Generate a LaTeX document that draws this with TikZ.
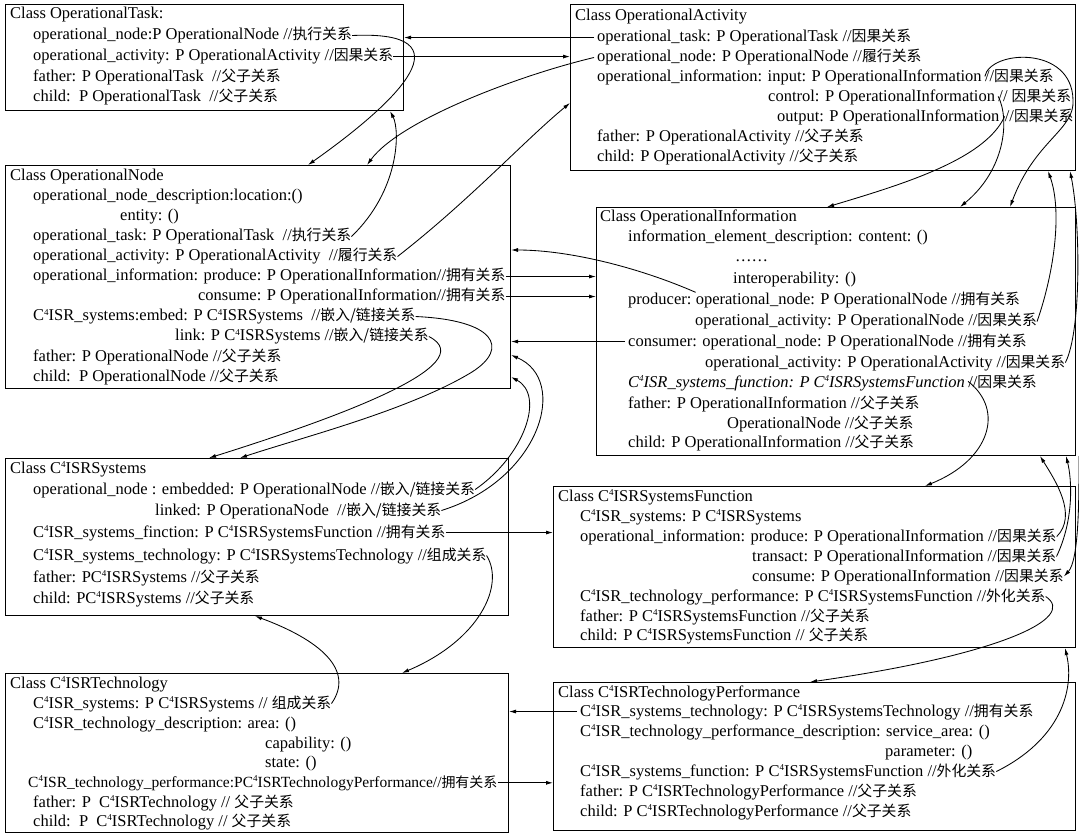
\documentclass[tikz,border=0pt]{standalone}
\usepackage{fontspec}
\setmainfont{Liberation Serif}
\newfontfamily\cjk[Scale=0.9]{Noto Sans CJK SC}
\usetikzlibrary{arrows.meta, positioning}
\newcommand{\cn}[1]{{\cjk #1}}
\newcommand{\cfour}{C\raisebox{0.75ex}{\fontsize{9}{9}\selectfont 4}ISR}
\newcommand{\rowfont}{\fontsize{16.5}{20}\selectfont}

\begin{document}
\begin{tikzpicture}[x=1pt, y=-1pt,
    classbox/.style={draw, line width=1pt, anchor=north west, inner sep=0pt},
    attr/.style={anchor=base west, inner sep=0pt, font=\rowfont},
    relarrow/.style={-{Latex[length=7pt, width=4pt]}, line width=0.85pt}
  ]
  \useasboundingbox (0,0) rectangle (1079,834);

  \node[classbox, minimum width=398pt, minimum height=106pt] (task) at (5,4) {};
  \node[classbox, minimum width=505pt, minimum height=166pt] (act) at (570,4) {};
  \node[classbox, minimum width=505pt, minimum height=223pt] (onode) at (5,165) {};
  \node[classbox, minimum width=479pt, minimum height=248pt] (info) at (596,207) {};
  \node[classbox, minimum width=503pt, minimum height=157pt] (sys) at (5,458) {};
  \node[classbox, minimum width=522pt, minimum height=161pt] (fun) at (553,486) {};
  \node[classbox, minimum width=503pt, minimum height=159pt] (tech) at (5,673) {};
  \node[classbox, minimum width=522pt, minimum height=148pt] (perf) at (553,682) {};

  \node[attr] (t0) at (10,19) {Class OperationalTask:};
  \node[attr] (t1) at (33,40) {operational\_node:P OperationalNode //\cn{执行关系}};
  \node[attr] (t2) at (33,61) {operational\_activity: P OperationalActivity //\cn{因果关系}};
  \node[attr] (t3) at (33,82) {father: P OperationalTask\enspace//\cn{父子关系}};
  \node[attr] (t4) at (33,102) {child:\enspace P OperationalTask\enspace//\cn{父子关系}};

  \node[attr] (a0) at (575,21) {Class OperationalActivity};
  \node[attr] (a1) at (597,42) {operational\_task: P OperationalTask //\cn{因果关系}};
  \node[attr] (a2) at (597,62) {operational\_node: P OperationalNode //\cn{履行关系}};
  \node[attr] (a3) at (597,82) {operational\_information: input: P OperationalInformation};
  \node[attr] (a3r) at ([xshift=3pt]a3.base east) {//\cn{因果关系}};
  \node[attr] (a4) at (768,102) {control: P OperationalInformation};
  \node[attr] (a4r) at ([xshift=3pt]a4.base east) {// \cn{因果关系}};
  \node[attr] (a5) at (777,122) {output: P OperationalInformation};
  \node[attr] (a5r) at ([xshift=5pt]a5.base east) {//\cn{因果关系}};
  \node[attr] (a6) at (597,142) {father: P OperationalActivity //\cn{父子关系}};
  \node[attr] (a7) at (597,162) {child: P OperationalActivity //\cn{父子关系}};

  \node[attr] (n0) at (10,181) {Class OperationalNode};
  \node[attr] (n1) at (33,201) {operational\_node\_description:location:()};
  \node[attr] (n2) at (120,221) {entity: ()};
  \node[attr] (n3) at (33,241) {operational\_task: P OperationalTask\enspace//\cn{执行关系}};
  \node[attr] (n4) at (33,261) {operational\_activity: P OperationalActivity\enspace//\cn{履行关系}};
  \node[attr] (n5) at (33,281) {operational\_information: produce: P OperationalInformation//\cn{拥有关系}};
  \node[attr, anchor=base east] (n6) at ([yshift=-20pt]n5.base east) {consume: P OperationalInformation//\cn{拥有关系}};
  \node[attr] (n7) at (33,321) {\cfour\_systems:embed: P \cfour Systems\enspace//\cn{嵌入/链接关系}};
  \node[attr] (n8) at (175,341) {link: P \cfour Systems //\cn{嵌入/链接关系}};
  \node[attr] (n9) at (33,361) {father: P OperationalNode //\cn{父子关系}};
  \node[attr] (n10) at (33,381) {child:\enspace P OperationalNode //\cn{父子关系}};

  \node[attr] (i0) at (600,222) {Class OperationalInformation};
  \node[attr] (i1) at (628,242) {information\_element\_description: content: ()};
  \node[attr] (i2) at (735,262) {\ldots\ldots};
  \node[attr] (i3) at (733,284) {interoperability: ()};
  \node[attr] (i4) at (628,305) {producer:};
  \node[attr] (i4b) at ([xshift=4pt]i4.base east) {operational\_node: P OperationalNode //\cn{拥有关系}};
  \node[attr] (i5) at (695,326) {operational\_activity: P OperationalNode //\cn{因果关系}};
  \node[attr] (i6) at (628,346) {consumer: operational\_node: P OperationalNode //\cn{拥有关系}};
  \node[attr] (i7) at (705,367) {operational\_activity: P OperationalActivity //\cn{因果关系}};
  \node[attr] (i8) at (628,387) {\itshape\cfour\_systems\_function: P \cfour SystemsFunction};
  \node[attr] (i8r) at ([xshift=3pt]i8.base east) {//\cn{因果关系}};
  \node[attr] (i9) at (628,408) {father: P OperationalInformation //\cn{父子关系}};
  \node[attr] (i10) at (727,428) {OperationalNode //\cn{父子关系}};
  \node[attr] (i11) at (628,447) {child: P OperationalInformation //\cn{父子关系}};

  \node[attr] (s0) at (10,473) {Class \cfour Systems};
  \node[attr] (s1) at (33,494) {operational\_node : embedded: P OperationalNode //\cn{嵌入/链接关系}};
  \node[attr] (s2) at (155,515) {linked: P OperationaNode\enspace//\cn{嵌入/链接关系}};
  \node[attr] (s3) at (33,537) {\cfour\_systems\_finction: P \cfour SystemsFunction //\cn{拥有关系}};
  \node[attr] (s4) at (33,560) {\cfour\_systems\_technology: P \cfour SystemsTechnology //\cn{组成关系}};
  \node[attr] (s5) at (33,582) {father: P\cfour Systems //\cn{父子关系}};
  \node[attr] (s6) at (33,603) {child: P\cfour Systems //\cn{父子关系}};

  \node[attr] (f0) at (558,501) {Class \cfour SystemsFunction};
  \node[attr] (f1) at (580,521) {\cfour\_systems: P \cfour Systems};
  \node[attr] (f2) at (580,541) {operational\_information: produce: P OperationalInformation //\cn{因果关系}};
  \node[attr] (f3) at (752,561) {transact: P OperationalInformation //\cn{因果关系}};
  \node[attr] (f4) at (752,581) {consume: P OperationalInformation //\cn{因果关系}};
  \node[attr] (f5) at (580,601) {\cfour\_technology\_performance: P \cfour SystemsFunction //\cn{外化关系}};
  \node[attr] (f6) at (580,621) {father: P \cfour SystemsFunction //\cn{父子关系}};
  \node[attr] (f7) at (580,640) {child: P \cfour SystemsFunction // \cn{父子关系}};

  \node[attr] (k0) at (10,688) {Class \cfour Technology};
  \node[attr] (k1) at (33,708) {\cfour\_systems: P \cfour Systems // \cn{组成关系}};
  \node[attr] (k2) at (33,728) {\cfour\_technology\_description: area: ()};
  \node[attr] (k3) at (265,748) {capability: ()};
  \node[attr] (k4) at (265,767) {state: ()};
  \node[attr, font=\fontsize{15.5}{20}\selectfont] (k5) at (28,787) {\cfour\_technology\_performance:P\cfour TechnologyPerformance//\cn{拥有关系}};
  \node[attr] (k6) at (33,807) {father: P\enspace\cfour Technology // \cn{父子关系}};
  \node[attr] (k7) at (33,826) {child:\enspace P\enspace\cfour Technology // \cn{父子关系}};

  \node[attr] (p0) at (558,697) {Class \cfour TechnologyPerformance};
  \node[attr] (p1) at (580,716) {\cfour\_systems\_technology: P \cfour SystemsTechnology //\cn{拥有关系}};
  \node[attr] (p2) at (580,736) {\cfour\_technology\_performance\_description: service\_area: ()};
  \node[attr] (p3) at (885,756) {parameter: ()};
  \node[attr] (p4) at (580,776) {\cfour\_systems\_function: P \cfour SystemsFunction //\cn{外化关系}};
  \node[attr] (p5) at (580,796) {father: P \cfour TechnologyPerformance //\cn{父子关系}};
  \node[attr] (p6) at (580,816) {child: P \cfour TechnologyPerformance //\cn{父子关系}};

  \draw[relarrow] ([xshift=-3pt]a1.west) -- (a1.west -| task.east);
  \draw[relarrow] (t2.east) -- (t2.east -| act.west);
  \draw[relarrow] (t1.east) .. controls (470,30) and (400,100) .. ([xshift=303pt]onode.north west);
  \draw[relarrow] ([xshift=-3pt]a2.west) .. controls (520,75) and (400,120) .. ([xshift=362pt]onode.north west);
  \draw[relarrow] (n3.east) .. controls (400,190) and (400,130) .. ([xshift=385pt]task.south west);
  \draw[relarrow] (n4.east) .. controls (470,200) and (525,140) .. ([yshift=-99pt]act.north west);

  \draw[relarrow] (a3r.west) .. controls (990,50) and (1072,45) .. (1073,100) .. controls (1075,130) and (1035,140) .. ([xshift=414pt]info.north west);
  \draw[relarrow] (a4r.west) .. controls (1010,120) and (1005,170) .. ([xshift=364pt]info.north west);
  \draw[relarrow] (a5r.west) .. controls (985,160) and (900,185) .. ([xshift=231pt]info.north west);
  \draw[relarrow] (i5.east) .. controls (1055,270) and (1062,210) .. ([xshift=478pt]act.south west);
  \draw[relarrow] (i7.east) .. controls (1082,330) and (1080,220) .. ([xshift=500pt]act.south west);

  \draw[relarrow] (n5.east) -- (n5.east -| info.west);
  \draw[relarrow] (n6.east) -- (n6.east -| info.west);
  \draw[relarrow] (i4b.north west) .. controls (640,268) and (570,250) .. ([yshift=-85pt]onode.north east);
  \draw[relarrow] ([xshift=-3pt]i6.west) -- (i6.west -| onode.east);

  \draw[relarrow] (n7.east) .. controls (495,320) and (510,348) .. (472,372) .. controls (410,410) and (300,438) .. ([xshift=235pt]sys.north west);
  \draw[relarrow] (n8.east) .. controls (485,365) and (330,420) .. ([xshift=204pt]sys.north west);
  \draw[relarrow] (s1.east) .. controls (525,455) and (545,395) .. ([yshift=-212pt]onode.north east);
  \draw[relarrow] (s2.east) .. controls (540,480) and (570,380) .. ([yshift=-190pt]onode.north east);

  \draw[relarrow] (s3.east) -- (s3.east -| fun.west);
  \draw[relarrow] (s4.east) .. controls (505,585) and (480,640) .. ([xshift=397pt]tech.north west);
  \draw[relarrow] (k1.east) .. controls (355,670) and (320,640) .. ([xshift=250pt]sys.south west);

  \draw[relarrow] (i8r.west) .. controls (1005,410) and (990,460) .. ([xshift=372pt]fun.north west);
  \draw[relarrow] (f2.east) .. controls (1078,515) and (1055,480) .. ([xshift=444pt]info.south west);
  \draw[relarrow] (f3.east) .. controls (1074,520) and (1072,480) .. ([xshift=470pt]info.south west);
  \draw[relarrow] ([xshift=3pt]info.south east) .. controls (1079,500) and (1079,560) .. (f4.east);

  \draw[relarrow] (f5.east) .. controls (1078,618) and (1000,655) .. ([xshift=257pt]perf.north west);
  \draw[relarrow] (p4.east) .. controls (1060,740) and (1075,690) .. ([xshift=512pt]fun.south west);
  \draw[relarrow] ([xshift=-3pt]p1.west) -- (p1.west -| tech.east);
  \draw[relarrow] (k5.east) -- (k5.east -| perf.west);
\end{tikzpicture}
\end{document}
